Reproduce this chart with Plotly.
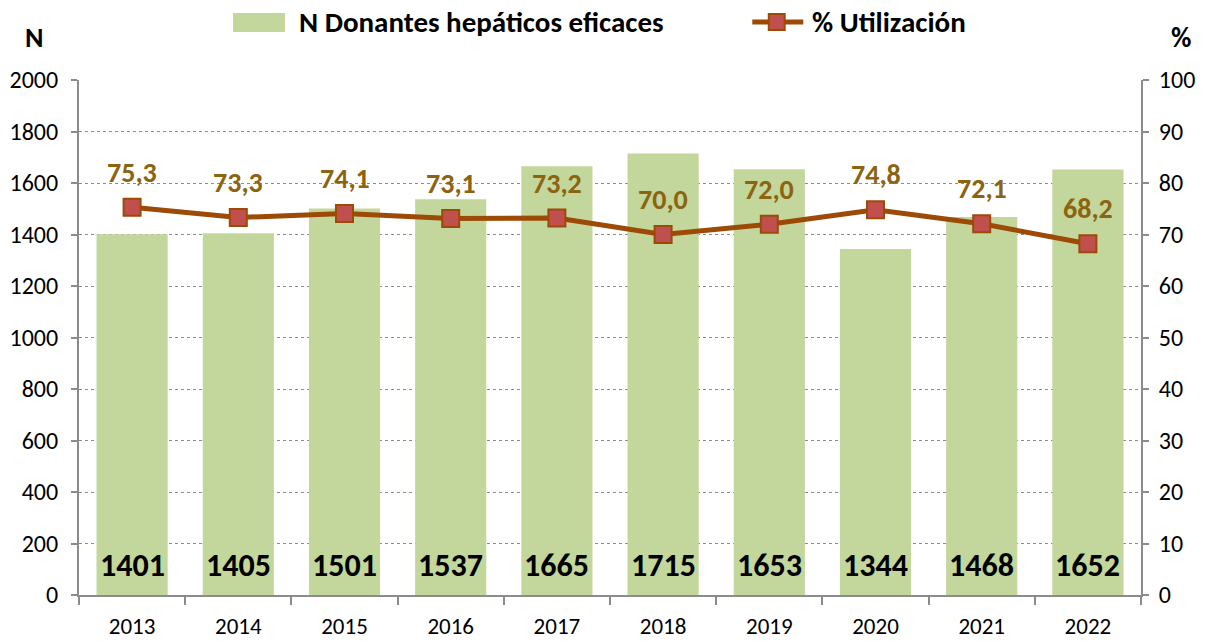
import plotly.graph_objects as go

years = ["2013", "2014", "2015", "2016", "2017", "2018", "2019", "2020", "2021", "2022"]
donantes = [1401, 1405, 1501, 1537, 1665, 1715, 1653, 1344, 1468, 1652]
utilizacion = [75.3, 73.3, 74.1, 73.1, 73.2, 70.0, 72.0, 74.8, 72.1, 68.2]
util_labels = [f"{v:.1f}".replace(".", ",") for v in utilizacion]
bar_name = "N Donantes hepáticos eficaces"
line_name = "% Utilización"

FONT = "Carlito, Liberation Sans Narrow, Open Sans, sans-serif"
LINE_C = "#9C4A06"
LABEL_C = "#8C6410"
AX_C = "#8C8C8C"
BAR_C = "#C3D69B"
MARK_C = "#C0504D"

fig = go.Figure()
fig.add_trace(go.Bar(
    x=years, y=donantes, name=bar_name,
    marker=dict(color=BAR_C, line=dict(width=0)), width=0.67,
))
fig.add_trace(go.Scatter(
    x=years, y=utilizacion, name=line_name, yaxis="y2",
    mode="lines+markers",
    line=dict(color=LINE_C, width=5),
    marker=dict(symbol="square", size=17, color=MARK_C, line=dict(color=LINE_C, width=2)),
))

ann = []
for i, v in enumerate(donantes):
    ann.append(dict(x=i, y=0, xref="x", yref="y", text=f"<b>{v}</b>", showarrow=False,
                    yanchor="middle", yshift=30, font=dict(size=32, color="black", family=FONT)))
for i, (v, t) in enumerate(zip(utilizacion, util_labels)):
    ann.append(dict(x=i, y=v, xref="x", yref="y2", text=f"<b>{t}</b>", showarrow=False,
                    yanchor="middle", yshift=35, font=dict(size=28, color=LABEL_C, family=FONT)))
ann.append(dict(xref="paper", yref="paper", x=-0.042, y=1.082, xanchor="center", yanchor="middle",
                text="<b>N</b>", showarrow=False, font=dict(size=28, color="black", family=FONT)))
ann.append(dict(xref="paper", yref="paper", x=1.038, y=1.082, xanchor="center", yanchor="middle",
                text="<b>%</b>", showarrow=False, font=dict(size=28, color="black", family=FONT)))
# custom legend texts
ann.append(dict(xref="paper", yref="paper", x=0.205, y=1.1126, xanchor="left", yanchor="middle",
                text=f"<b>{bar_name}</b>", showarrow=False, font=dict(size=29, color="black", family=FONT)))
ann.append(dict(xref="paper", yref="paper", x=0.6883, y=1.1126, xanchor="left", yanchor="middle",
                text=f"<b>{line_name}</b>", showarrow=False, font=dict(size=29, color="black", family=FONT)))

shapes = [
    dict(type="rect", xref="paper", yref="paper", x0=0.145, x1=0.194, y0=1.093, y1=1.130,
         fillcolor=BAR_C, line=dict(width=0)),
    dict(type="line", xref="paper", yref="paper", x0=0.634, x1=0.682, y0=1.1126, y1=1.1126,
         line=dict(color=LINE_C, width=5)),
    dict(type="rect", xref="paper", yref="paper", x0=0.657 - 0.0075, x1=0.657 + 0.0075,
         y0=1.1126 - 0.0155, y1=1.1126 + 0.0155,
         fillcolor=MARK_C, line=dict(color=LINE_C, width=2)),
]

fig.update_layout(
    width=1209, height=642,
    margin=dict(l=79, r=68, t=80, b=47, autoexpand=False),
    paper_bgcolor="white", plot_bgcolor="white",
    font=dict(family=FONT, size=24, color="black"),
    showlegend=False,
    xaxis=dict(type="category", range=[-0.5, 9.5], showline=True, linecolor=AX_C, linewidth=2,
               ticks="outside", tickson="boundaries", ticklen=8, tickcolor=AX_C, tickwidth=2,
               showgrid=False, tickfont=dict(size=23), tickangle=0, ticklabelstandoff=9),
    yaxis=dict(range=[0, 2000], dtick=200, showline=True, linecolor=AX_C, linewidth=2,
               ticks="outside", ticklen=6, tickcolor=AX_C, tickwidth=2,
               showgrid=True, gridcolor=AX_C, griddash="dot", gridwidth=1,
               zeroline=False, tickfont=dict(size=24), ticklabelstandoff=8),
    yaxis2=dict(range=[0, 100], dtick=10, overlaying="y", side="right", showline=True,
                linecolor=AX_C, linewidth=2, ticks="outside", ticklen=6, tickcolor=AX_C,
                tickwidth=2, showgrid=False, zeroline=False, tickfont=dict(size=24),
                ticklabelstandoff=5),
    annotations=ann,
    shapes=shapes,
)

fig.write_html("out.html", config={"displayModeBar": False},
               post_script="document.body.style.margin='0';document.body.style.overflow='hidden';")
